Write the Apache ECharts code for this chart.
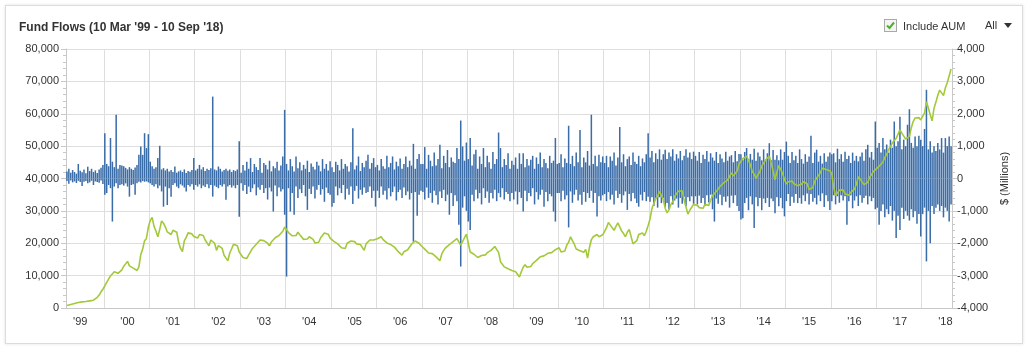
<!DOCTYPE html>
<html>
<head>
<meta charset="utf-8">
<title>Fund Flows</title>
<script src="https://cdn.jsdelivr.net/npm/echarts@6/dist/echarts.min.js"></script>
<style>
    body {
        margin: 0;
        background: #fff;
        font-family: "Liberation Sans", Arial, sans-serif;
    }

    .frame {
        position: absolute;
        left: 5px;
        top: 5px;
        width: 1016px;
        height: 337px;
        border: 1px solid #dcdcdc;
        box-shadow: 0 0 3px rgba(0, 0, 0, 0.12);
        background: #fff;
    }

    #chart {
        position: absolute;
        left: 0;
        top: 0;
        width: 1030px;
        height: 354px;
    }

    .aum-toggle {
        position: absolute;
        left: 884px;
        top: 19px;
        font-size: 11px;
        color: #333;
        display: flex;
        align-items: center;
    }

    .aum-box {
        width: 11px;
        height: 11px;
        border: 1px solid #a9a9a9;
        background: #f4f4f4;
        margin-right: 6px;
    }

    .range {
        position: absolute;
        left: 985px;
        top: 19px;
        font-size: 11px;
        color: #333;
        display: flex;
        align-items: center;
        line-height: 13px;
    }

    .caret {
        width: 0;
        height: 0;
        margin-left: 7px;
        border-left: 4px solid transparent;
        border-right: 4px solid transparent;
        border-top: 5px solid #333;
    }
</style>
</head>
<body>
<div class="frame"></div>
<div id="chart"></div>
<div class="aum-toggle">
    <div class="aum-box">
        <svg width="11" height="11" viewBox="0 0 11 11"><polyline points="2,5.5 4.5,8 9,2.5" fill="none" stroke="#4fae2e" stroke-width="2"/></svg>
    </div>
    Include AUM
</div>
<div class="range">All<span class="caret"></span></div>

<script>
    // half-month slots, 10 Mar '99 .. Aug '18
    var years = [1999, 2000, 2001, 2002, 2003, 2004, 2005, 2006, 2007, 2008, 2009,
        2010, 2011, 2012, 2013, 2014, 2015, 2016, 2017, 2018];

    // AUM, $ millions (left axis)
    var aum = [
        800, 1000, 1100, 1300, 1400, 1600, 1700, 1800, 1900, 1800, 2000, 2100, 2200, 2100, 2400, 2800, 3300, 4000, 5000, 5800, // '99
        6800, 7900, 8400, 9900, 10000, 11200, 11600, 10700, 11100, 11800, 12900, 13200, 14400, 13000, 12500, 12300, 12200, 11600, 12700, 16500, 18200, 20800, 21500, 25000, // '00
        27000, 28000, 25200, 23800, 22000, 24300, 26900, 26200, 25000, 23500, 23900, 22700, 24000, 23600, 23400, 20300, 18400, 17400, 20700, 21800, 23200, 23000, 22900, 22100, // '01
        22500, 21600, 22700, 22800, 22400, 21000, 20500, 19200, 21000, 21300, 20000, 17800, 19300, 19800, 18400, 16300, 15400, 14600, 17000, 18300, 19700, 20300, 19200, 17300, // '02
        17200, 15600, 15200, 15300, 16400, 17000, 18400, 18800, 19700, 20000, 21000, 21000, 20800, 20300, 20000, 19200, 20400, 20600, 21700, 21600, 22400, 22600, 23700, 25000, // '03
        24500, 23300, 23000, 22300, 22200, 22400, 23400, 22600, 22500, 21200, 21200, 21300, 22000, 21800, 21200, 20100, 20000, 20300, 21700, 22000, 23200, 23200, 22800, 21600, // '04
        21400, 20600, 20500, 19800, 19700, 18600, 18200, 18400, 20000, 20100, 20700, 20600, 20500, 19800, 20400, 19600, 19400, 17800, 19800, 20300, 21000, 20800, 21000, 21000, // '05
        21400, 21300, 22000, 21100, 21000, 20100, 20200, 19600, 19400, 18800, 18500, 17400, 17000, 16300, 17400, 17800, 18000, 18300, 19700, 20000, 20700, 20100, 20000, 19300, // '06
        19200, 18200, 18000, 17000, 17100, 16800, 16700, 15800, 15500, 14600, 16700, 17800, 18600, 18600, 19600, 19600, 20500, 20600, 21400, 21000, 19400, 19800, 21700, 22800, // '07
        20000, 17300, 16800, 16600, 16400, 15600, 16200, 16200, 16400, 16400, 17100, 17000, 17800, 17700, 19000, 19600, 17200, 14300, 13700, 12700, 12700, 12100, 12200, 11600, // '08
        12200, 11200, 10800, 9600, 11200, 12600, 13400, 12600, 12800, 12800, 13700, 13600, 14700, 14800, 15800, 15800, 16100, 16200, 16900, 16300, 17100, 17000, 18000, 18000, // '09
        18600, 17300, 16700, 17600, 19400, 20300, 22000, 20800, 19700, 18200, 18400, 17700, 17700, 17200, 18100, 15400, 18700, 21100, 22000, 22100, 22700, 22000, 22200, 22600, // '10
        23700, 24800, 26400, 25600, 25000, 24000, 25200, 26300, 25700, 23800, 23000, 22000, 23400, 24300, 24000, 19800, 20000, 20800, 22700, 23200, 23200, 22300, 23700, 25500, // '11
        27500, 30700, 32300, 33700, 34600, 36000, 34800, 33500, 30800, 29400, 30300, 32000, 32800, 34500, 35000, 36100, 36100, 36200, 33300, 31200, 29000, 30200, 30600, 32000, // '12
        32000, 31700, 31000, 31600, 30800, 32000, 31800, 31700, 33300, 34700, 34700, 36000, 36600, 37600, 37800, 38700, 38600, 39500, 40000, 41700, 40800, 40700, 42300, 44400, // '13
        44800, 46100, 46200, 46900, 45600, 44200, 42100, 41400, 40000, 41200, 42100, 43800, 44400, 45700, 46000, 46900, 44800, 42200, 39600, 42000, 44000, 44000, 41600, 39700, // '14
        38300, 39000, 39000, 39200, 38400, 38500, 37800, 38200, 38200, 39000, 38800, 38400, 36600, 36800, 37200, 39200, 39800, 41000, 41800, 43200, 42600, 42800, 42200, 42400, // '15
        41500, 37300, 34700, 35300, 36400, 36800, 36500, 35300, 35100, 34800, 35700, 35600, 36700, 38300, 40500, 39800, 39500, 38100, 38200, 38800, 40400, 41200, 42200, 42400, // '16
        43200, 43100, 44400, 45100, 46500, 47400, 49000, 49800, 51000, 51300, 52400, 52600, 55000, 54000, 53500, 52200, 52000, 53000, 55700, 57600, 58700, 58800, 58800, 58100, // '17
        58200, 60300, 63700, 61800, 59700, 57800, 61700, 63600, 65700, 67300, 67000, 65600, 68000, 69600, 69700, 73800 // '18
    ];

    // largest inflow in each slot, $ millions (right axis)
    var flowHigh = [
        220, 300, 180, 260, 200, 150, 450, 240, 190, 280, 160, 360, 230, 300, 200, 250, 170, 280, 330, 420, // '99
        1400, 450, 380, 1250, 520, 350, 1970, 300, 420, 400, 380, 330, 280, 350, 300, 260, 340, 420, 730, 990, 730, 1400, 940, 1370, // '00
        520, 380, 300, 350, 630, 1010, 280, 320, 250, 300, 220, 260, 200, 370, 180, 220, 250, 200, 280, 170, 230, 210, 260, 630, // '01
        250, 300, 420, 280, 350, 230, 300, 260, 320, 2530, 280, 250, 370, 300, 220, 260, 300, 240, 280, 200, 260, 230, 280, 1150, // '02
        180, 420, 250, 520, 300, 630, 200, 450, 350, 260, 630, 180, 480, 420, 280, 550, 220, 380, 320, 520, 250, 400, 680, 2120, // '03
        450, 250, 600, 380, 220, 680, 320, 500, 250, 420, 300, 550, 200, 460, 360, 280, 520, 400, 220, 600, 300, 450, 250, 530, // '04
        350, 200, 520, 420, 250, 600, 300, 450, 380, 220, 500, 1550, 280, 400, 680, 230, 480, 350, 550, 730, 300, 480, 630, 350, // '05
        420, 250, 600, 380, 300, 700, 350, 480, 680, 280, 520, 380, 620, 300, 450, 680, 350, 550, 400, 1070, 300, 600, 760, 450, // '06
        450, 970, 300, 730, 550, 380, 800, 400, 600, 1040, 320, 700, 480, 880, 350, 650, 520, 480, 940, 600, 1790, 990, 550, 1110, // '07
        600, 1250, 400, 750, 890, 300, 680, 450, 940, 350, 700, 500, 300, 820, 450, 600, 1420, 940, 350, 600, 420, 780, 300, 550, // '08
        420, 650, 300, 780, 450, 780, 350, 600, 400, 580, 700, 300, 650, 450, 800, 350, 600, 480, 320, 700, 480, 550, 1250, 450, // '09
        480, 750, 350, 620, 480, 1630, 450, 700, 380, 800, 500, 1500, 350, 650, 500, 850, 400, 1970, 450, 700, 380, 730, 500, 680, // '10
        480, 700, 350, 680, 550, 800, 400, 650, 1590, 500, 750, 380, 600, 680, 420, 800, 520, 450, 700, 380, 620, 500, 750, 1400, // '11
        650, 850, 500, 780, 600, 900, 580, 750, 890, 600, 800, 680, 900, 550, 750, 620, 850, 560, 700, 900, 650, 800, 600, 830, // '12
        700, 550, 820, 480, 730, 600, 850, 520, 780, 650, 550, 820, 480, 750, 620, 500, 830, 550, 680, 720, 500, 850, 530, 760, // '13
        750, 580, 820, 940, 600, 760, 580, 920, 550, 800, 680, 560, 900, 580, 780, 1090, 560, 880, 580, 720, 560, 900, 580, 820, // '14
        1140, 700, 480, 820, 560, 700, 480, 900, 600, 460, 750, 520, 680, 1320, 480, 800, 890, 520, 700, 460, 780, 520, 680, 800, // '15
        750, 780, 500, 920, 600, 750, 520, 830, 600, 700, 480, 800, 550, 700, 530, 680, 800, 550, 900, 1040, 650, 820, 580, 1760, // '16
        950, 1100, 800, 1250, 900, 1050, 800, 1200, 950, 1760, 1000, 1150, 1910, 900, 1200, 1000, 1660, 2140, 1100, 950, 1300, 1000, 1320, 1200, // '17
        1000, 1530, 2740, 900, 1150, 800, 1000, 850, 1100, 900, 1250, 800, 1250, 1000, 1300, 1000 // '18
    ];

    // largest outflow in each slot, $ millions (right axis)
    var flowLow = [
        -80, -160, -60, -120, -90, -140, -70, -110, -230, -100, -80, -150, -120, -70, -200, -90, -110, -130, -60, -170, // '99
        -500, -450, -200, -300, -1330, -250, -150, -300, -200, -180, -220, -150, -250, -560, -200, -180, -500, -150, -100, -120, -80, -100, -90, -120, // '00
        -150, -200, -250, -180, -300, -220, -400, -870, -250, -820, -300, -560, -200, -150, -250, -300, -180, -220, -280, -400, -200, -250, -180, -350, // '01
        -200, -250, -180, -300, -220, -260, -180, -300, -200, -560, -220, -260, -300, -200, -250, -180, -660, -250, -200, -280, -220, -300, -200, -1180, // '02
        -150, -380, -200, -480, -250, -420, -300, -180, -520, -280, -350, -200, -450, -300, -650, -280, -400, -1020, -220, -550, -280, -400, -330, -1120, // '03
        -3030, -300, -1020, -450, -1120, -250, -600, -330, -450, -200, -550, -970, -320, -480, -250, -620, -350, -200, -500, -330, -720, -280, -450, -500, // '04
        -870, -760, -250, -520, -300, -450, -200, -650, -320, -500, -250, -790, -380, -230, -620, -350, -500, -280, -450, -420, -250, -600, -380, -870, // '05
        -380, -600, -250, -500, -380, -650, -300, -550, -420, -250, -680, -420, -350, -600, -280, -520, -400, -650, -450, -1950, -420, -1150, -500, -380, // '06
        -420, -650, -280, -600, -450, -750, -380, -520, -800, -400, -600, -350, -700, -500, -1120, -450, -850, -520, -700, -1430, -2720, -900, -550, -1000, // '07
        -1330, -1590, -500, -700, -350, -620, -450, -800, -300, -600, -400, -750, -450, -620, -350, -700, -450, -580, -300, -650, -420, -480, -700, -450, // '08
        -650, -400, -800, -420, -600, -1020, -380, -700, -450, -550, -300, -800, -420, -650, -500, -350, -870, -420, -700, -480, -550, -1020, -1330, -450, // '09
        -450, -700, -380, -650, -520, -1510, -400, -750, -500, -350, -680, -500, -810, -420, -720, -450, -600, -380, -750, -450, -1170, -550, -680, -520, // '10
        -480, -700, -420, -650, -500, -800, -380, -600, -480, -750, -520, -400, -970, -480, -700, -450, -620, -760, -870, -500, -680, -420, -700, -560, // '11
        -720, -580, -850, -600, -900, -580, -760, -600, -870, -760, -950, -550, -800, -680, -620, -900, -600, -780, -560, -850, -580, -700, -550, -780, // '12
        -550, -800, -530, -760, -600, -850, -520, -740, -500, -950, -1330, -620, -780, -500, -830, -560, -720, -550, -900, -530, -760, -520, -850, -1000, // '13
        -1270, -1230, -760, -600, -980, -550, -800, -1530, -580, -860, -600, -980, -620, -760, -600, -880, -620, -700, -1070, -580, -860, -600, -920, -1170, // '14
        -700, -480, -850, -560, -750, -480, -760, -600, -780, -520, -700, -460, -800, -480, -720, -600, -800, -520, -700, -460, -880, -520, -700, -970, // '15
        -700, -520, -800, -550, -750, -520, -680, -550, -1430, -700, -520, -920, -680, -550, -850, -520, -750, -600, -530, -800, -550, -700, -600, -950, // '16
        -900, -1430, -1000, -800, -1200, -950, -1100, -850, -1300, -1000, -1840, -1150, -1590, -900, -1250, -1000, -1150, -1300, -950, -1200, -1000, -1400, -1100, -1790, // '17
        -1100, -900, -2560, -1000, -2000, -850, -1100, -900, -800, -1000, -850, -1200, -900, -1000, -1330, -800 // '18
    ];

    // build the half-month categories and where each year starts / is labelled
    var slots = [];
    var yearStart = {};
    var yearLabel = {};
    years.forEach(function (y) {
        var firstMonth = y === 1999 ? 3 : 1;
        var lastMonth = y === 2018 ? 8 : 12;
        yearStart[slots.length] = true;
        yearLabel[slots.length + (y === 1999 ? 7 : 12)] = true;
        for (var m = firstMonth; m <= lastMonth; m++) {
            slots.push(y + '-' + (m < 10 ? '0' + m : m) + '-a');
            slots.push(y + '-' + (m < 10 ? '0' + m : m) + '-b');
        }
    });

    var font = '"Liberation Sans", Arial, sans-serif';
    var gridColor = '#dedede';
    var axisColor = '#c8c8c8';
    var barColor = '#3a6ca8';

    var myChart = echarts.init(document.getElementById('chart'));
    var option = {
        animation: false,
        backgroundColor: 'transparent',
        title: {
            text: "Fund Flows (10 Mar '99 - 10 Sep '18)",
            left: 14,
            top: 17,
            textStyle: { fontSize: 12, fontWeight: 'bold', color: '#333', fontFamily: font }
        },
        grid: { left: 66, right: 78, top: 49, bottom: 46 },
        xAxis: {
            type: 'category',
            data: slots,
            boundaryGap: true,
            axisLine: { lineStyle: { color: axisColor } },
            axisTick: {
                length: 5,
                lineStyle: { color: axisColor },
                interval: function (i) { return !!yearStart[i]; }
            },
            splitLine: {
                show: true,
                interval: function (i) { return !!yearStart[i]; },
                lineStyle: { color: gridColor }
            },
            axisLabel: {
                interval: function (i) { return !!yearLabel[i]; },
                formatter: function (v) { return "'" + v.slice(2, 4); },
                color: '#333',
                fontSize: 11,
                fontFamily: font,
                margin: 8
            }
        },
        yAxis: [{
            type: 'value',
            min: 0,
            max: 80000,
            interval: 10000,
            axisLine: { show: true, lineStyle: { color: axisColor } },
            axisTick: { show: true, length: 5, lineStyle: { color: axisColor } },
            minorTick: { show: true, splitNumber: 5, length: 3, lineStyle: { color: axisColor } },
            splitLine: { lineStyle: { color: gridColor } },
            axisLabel: { color: '#333', fontSize: 11, fontFamily: font, margin: 7 }
        }, {
            type: 'value',
            min: -4000,
            max: 4000,
            interval: 1000,
            position: 'right',
            name: '$ (Millions)',
            nameLocation: 'middle',
            nameRotate: 90,
            nameGap: 47,
            nameTextStyle: { color: '#333', fontSize: 11, fontFamily: font },
            axisLine: { show: true, lineStyle: { color: axisColor } },
            axisTick: { show: true, length: 5, lineStyle: { color: axisColor } },
            minorTick: { show: true, splitNumber: 5, length: 3, lineStyle: { color: axisColor } },
            splitLine: { show: false },
            axisLabel: { color: '#333', fontSize: 11, fontFamily: font, margin: 5 }
        }],
        series: [{
            name: 'Inflow',
            type: 'bar',
            yAxisIndex: 1,
            data: flowHigh,
            barWidth: '80%',
            barGap: '-100%',
            itemStyle: { color: barColor },
            z: 2
        }, {
            name: 'Outflow',
            type: 'bar',
            yAxisIndex: 1,
            data: flowLow,
            barWidth: '80%',
            barGap: '-100%',
            itemStyle: { color: barColor },
            z: 2
        }, {
            name: 'AUM',
            type: 'line',
            yAxisIndex: 0,
            data: aum,
            symbol: 'none',
            lineStyle: { color: '#a3c93a', width: 1.6 },
            itemStyle: { color: '#a3c93a' },
            z: 3
        }]
    };

    option && myChart.setOption(option);
</script>
</body>
</html>
